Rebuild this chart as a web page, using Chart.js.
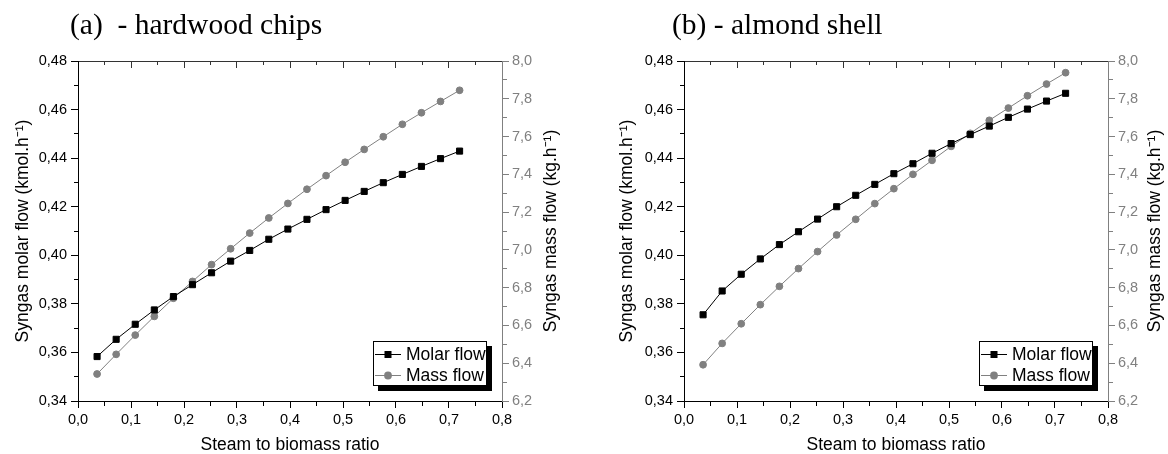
<!DOCTYPE html>
<html>
<head>
<meta charset="utf-8">
<script src="https://cdn.jsdelivr.net/npm/chart.js"></script>
<style>
  html, body { margin: 0; padding: 0; background: #fff; }
  .panel { position: absolute; top: 0; width: 584px; height: 454px; }
</style>
</head>
<body>
<div class="panel" style="left:0"><canvas id="chartA"></canvas></div>
<div class="panel" style="left:584px"><canvas id="chartB"></canvas></div>
<script>
const ratio = [0.036, 0.072, 0.108, 0.144, 0.18, 0.216, 0.252, 0.288, 0.324, 0.36,
               0.396, 0.432, 0.468, 0.504, 0.54, 0.576, 0.612, 0.648, 0.684, 0.72];

const hardwoodMolar = [0.3583, 0.3654, 0.3716, 0.3775, 0.3830, 0.3879, 0.3928, 0.3976, 0.4020, 0.4066,
                       0.4108, 0.4148, 0.4188, 0.4226, 0.4263, 0.4299, 0.4333, 0.4366, 0.4398, 0.4429];
const hardwoodMass = [6.343, 6.447, 6.549, 6.648, 6.744, 6.833, 6.922, 7.006, 7.089, 7.169,
                      7.246, 7.321, 7.393, 7.464, 7.532, 7.599, 7.665, 7.726, 7.786, 7.845];

const almondMolar = [0.3755, 0.3853, 0.3922, 0.3985, 0.4044, 0.4097, 0.4149, 0.4200, 0.4247, 0.4292,
                     0.4336, 0.4377, 0.4420, 0.4460, 0.4497, 0.4532, 0.4568, 0.4602, 0.4635, 0.4667];
const almondMass = [6.392, 6.505, 6.609, 6.710, 6.807, 6.901, 6.991, 7.079, 7.162, 7.245,
                    7.324, 7.400, 7.474, 7.548, 7.617, 7.686, 7.751, 7.816, 7.878, 7.938];

const seriesNames = ['Molar flow', 'Mass flow'];
const xTitle = 'Steam to biomass ratio';
const molarTitle = 'Syngas molar flow (kmol.h\u207B\u00B9)';
const massTitle = 'Syngas mass flow (kg.h\u207B\u00B9)';

const SANS = '"Liberation Sans", Arial, sans-serif';
const SERIF = '"Liberation Serif", "Times New Roman", serif';
const GREY = '#808080';

const fmt = (v, d) => v.toFixed(d).replace('.', ',');
const majorX = v => Math.round(v * 100) % 10 === 0;
const majorY = v => Math.round(v * 100) % 2 === 0;
const majorY1 = v => Math.round(v * 10) % 2 === 0;

// minor ticks are shorter: dash the tick line so only the part next to the axis shows
const dashOut = test => c => (c.tick && !test(c.tick.value)) ? [4, 20] : [];
const dashIn = test => c => (c.tick && !test(c.tick.value)) ? [0, 3, 4, 20] : [];

const decorPlugin = {
    id: 'decor',
    afterDraw(chart, args, opts) {
        const { ctx, chartArea } = chart;

        ctx.save();
        ctx.fillStyle = '#000';
        ctx.font = '29.5px ' + SERIF;
        ctx.textAlign = 'left';
        ctx.textBaseline = 'alphabetic';
        ctx.fillText(opts.heading, opts.headingX, 34);

        // right axis title reads bottom to top, like the left one
        ctx.font = '17.5px ' + SANS;
        ctx.translate(chartArea.right + opts.rightTitleGap, (chartArea.top + chartArea.bottom) / 2);
        ctx.rotate(-Math.PI / 2);
        ctx.textAlign = 'center';
        ctx.textBaseline = 'middle';
        ctx.fillText(massTitle, 0, 0);
        ctx.restore();

        // legend box with drop shadow
        const w = 114, h = 45;
        const left = chartArea.right - 15 - w;
        const top = chartArea.bottom - 15 - h;
        ctx.save();
        ctx.fillStyle = '#000';
        ctx.fillRect(left + 5, top + 5, w, h);
        ctx.fillStyle = '#fff';
        ctx.fillRect(left, top, w, h);
        ctx.strokeStyle = '#000';
        ctx.lineWidth = 1;
        ctx.strokeRect(left + 0.5, top + 0.5, w - 1, h - 1);
        chart.data.datasets.forEach((ds, i) => {
            const y = top + 13.5 + i * 21;
            ctx.strokeStyle = ds.borderColor;
            ctx.beginPath();
            ctx.moveTo(left + 2, y);
            ctx.lineTo(left + 28, y);
            ctx.stroke();
            ctx.fillStyle = ds.pointBackgroundColor;
            if (ds.pointStyle === 'rect') {
                ctx.fillRect(left + 11.5, y - 3.5, 7, 7);
            } else {
                ctx.beginPath();
                ctx.arc(left + 15, y, 3.9, 0, Math.PI * 2);
                ctx.fill();
            }
            ctx.fillStyle = '#000';
            ctx.font = '17.5px ' + SANS;
            ctx.textAlign = 'left';
            ctx.textBaseline = 'middle';
            ctx.fillText(ds.label, left + 33, y + 1);
        });
        ctx.restore();
    }
};

function buildPanel(canvasId, panel) {
    const tickFont = { family: SANS, size: 14.5 };
    const titleFont = { family: SANS, size: 17.5, lineHeight: 1 };

    return new Chart(document.getElementById(canvasId), {
        type: 'line',
        data: {
            datasets: [
                {
                    label: seriesNames[0],
                    data: ratio.map((x, i) => ({ x, y: panel.molar[i] })),
                    yAxisID: 'y',
                    borderColor: '#000',
                    backgroundColor: '#000',
                    pointBackgroundColor: '#000',
                    pointBorderColor: '#000',
                    pointStyle: 'rect',
                    pointRadius: 4.3,
                    pointBorderWidth: 1,
                    borderWidth: 1,
                    tension: 0
                },
                {
                    label: seriesNames[1],
                    data: ratio.map((x, i) => ({ x, y: panel.mass[i] })),
                    yAxisID: 'y1',
                    borderColor: GREY,
                    backgroundColor: GREY,
                    pointBackgroundColor: GREY,
                    pointBorderColor: GREY,
                    pointStyle: 'circle',
                    pointRadius: 3.4,
                    pointBorderWidth: 1,
                    borderWidth: 1,
                    tension: 0
                }
            ]
        },
        options: {
            responsive: true,
            maintainAspectRatio: false,
            animation: false,
            layout: { padding: 0 },
            plugins: {
                legend: { display: false },
                tooltip: { enabled: false },
                decor: { heading: panel.heading, headingX: panel.headingX, rightTitleGap: panel.rightTitleGap }
            },
            scales: {
                x: {
                    type: 'linear',
                    position: 'bottom',
                    min: 0,
                    max: 0.8,
                    afterFit: s => { s.height = 53; },
                    border: { color: '#000', width: 1 },
                    grid: { drawOnChartArea: false, tickLength: 7, tickColor: '#000', tickBorderDash: dashOut(majorX) },
                    ticks: {
                        stepSize: 0.05,
                        autoSkip: false,
                        maxRotation: 0,
                        padding: 3,
                        color: '#000',
                        font: tickFont,
                        callback: v => majorX(v) ? fmt(v, 1) : ''
                    },
                    title: { display: true, text: xTitle, color: '#000', font: titleFont, padding: 0 }
                },
                xTop: {
                    type: 'linear',
                    position: 'top',
                    min: 0,
                    max: 0.8,
                    afterFit: s => { s.height = 61; },
                    border: { color: '#333', width: 1 },
                    grid: { drawOnChartArea: false, tickLength: -7, tickColor: '#333', tickBorderDash: dashIn(majorX) },
                    ticks: { stepSize: 0.05, autoSkip: false, display: false }
                },
                y: {
                    type: 'linear',
                    position: 'left',
                    min: 0.34,
                    max: 0.48,
                    afterFit: s => { s.width = panel.leftWidth; },
                    border: { color: '#000', width: 1 },
                    grid: { drawOnChartArea: false, tickLength: 7, tickColor: '#000', tickBorderDash: dashIn(majorY) },
                    ticks: {
                        stepSize: 0.01,
                        autoSkip: false,
                        padding: 4,
                        color: '#000',
                        font: tickFont,
                        callback: v => majorY(v) ? fmt(v, 2) : ''
                    },
                    title: { display: true, text: molarTitle, color: '#000', font: titleFont, padding: { top: panel.leftTitlePad, bottom: 0 } }
                },
                y1: {
                    type: 'linear',
                    position: 'right',
                    min: 6.2,
                    max: 8.0,
                    afterFit: s => { s.width = panel.rightWidth; },
                    border: { color: GREY, width: 1 },
                    grid: { drawOnChartArea: false, tickLength: 7, tickColor: GREY, tickBorderDash: dashOut(majorY1) },
                    ticks: {
                        stepSize: 0.1,
                        autoSkip: false,
                        padding: 3,
                        color: GREY,
                        font: tickFont,
                        callback: v => majorY1(v) ? fmt(v, 1) : ''
                    }
                }
            }
        },
        plugins: [decorPlugin]
    });
}

buildPanel('chartA', {
    heading: '(a)  - hardwood chips',
    headingX: 70,
    molar: hardwoodMolar,
    mass: hardwoodMass,
    leftWidth: 78,
    rightWidth: 82,
    leftTitlePad: 14,
    rightTitleGap: 49
});

buildPanel('chartB', {
    heading: '(b) - almond shell',
    headingX: 88,
    molar: almondMolar,
    mass: almondMass,
    leftWidth: 100,
    rightWidth: 60,
    leftTitlePad: 34,
    rightTitleGap: 47
});
</script>
</body>
</html>
